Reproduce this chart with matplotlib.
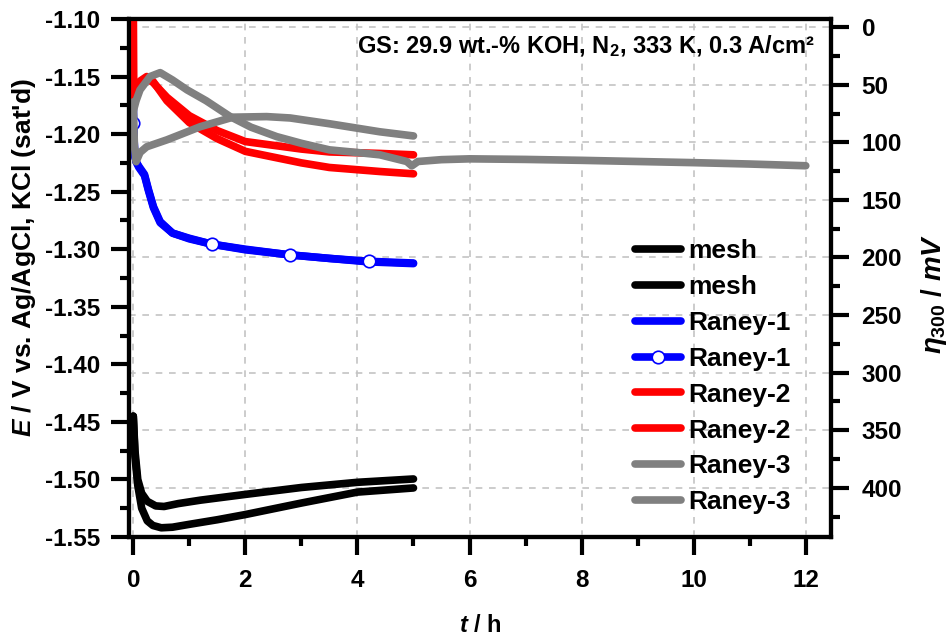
import matplotlib
matplotlib.use("Agg")
import matplotlib.pyplot as plt
from matplotlib.ticker import MultipleLocator

plt.rcParams["font.family"] = ["Liberation Sans", "DejaVu Sans"]
plt.rcParams["font.weight"] = "bold"
plt.rcParams["mathtext.fontset"] = "custom"
plt.rcParams["mathtext.rm"] = "Liberation Sans:bold"
plt.rcParams["mathtext.bf"] = "Liberation Sans:bold"
plt.rcParams["mathtext.it"] = "Liberation Sans:bold:italic"

# data (t in h, E in V vs. Ag/AgCl)
mesh_a_t = [0, 0.03, 0.08, 0.15, 0.25, 0.4, 0.55, 0.8, 1.2, 2.0, 3.0, 4.0, 5.0]
mesh_a_E = [-1.445, -1.475, -1.500, -1.512, -1.519, -1.523, -1.5235, -1.521,
            -1.518, -1.513, -1.507, -1.5025, -1.4996]
mesh_b_t = [0, 0.03, 0.08, 0.15, 0.25, 0.35, 0.5, 0.7, 1.0, 1.5, 2.0, 3.0, 4.0, 5.0]
mesh_b_E = [-1.445, -1.48, -1.505, -1.525, -1.536, -1.540, -1.542, -1.5415,
            -1.539, -1.535, -1.5305, -1.5205, -1.511, -1.5074]

raney1_a_t = [0, 0.02, 0.05, 0.1, 0.2, 0.27, 0.36, 0.48, 0.7, 1.0, 1.4, 2.0,
              2.8, 3.5, 4.2, 5.0]
raney1_a_E = [-1.175, -1.215, -1.224, -1.228, -1.235, -1.248, -1.263, -1.276,
              -1.286, -1.2905, -1.2956, -1.300, -1.305, -1.308, -1.311, -1.3125]
raney1_b_t = [0, 0.03, 0.06, 0.1, 0.2, 0.27, 0.36, 0.48, 0.7, 1.0, 1.4, 2.0,
              2.8, 3.5, 4.2, 5.0]
raney1_b_E = [-1.19, -1.22, -1.225, -1.229, -1.236, -1.249, -1.264, -1.277,
              -1.286, -1.291, -1.2956, -1.3005, -1.3049, -1.308, -1.3105, -1.312]
raney1_b_marks = [0, 10, 12, 14]

raney2_a_t = [0, 0.01, 0.05, 0.12, 0.24, 0.35, 0.6, 1.0, 1.5, 2.0, 3.0, 3.5, 4.4, 5.0]
raney2_a_E = [-1.08, -1.172, -1.165, -1.156, -1.152, -1.155, -1.168, -1.184,
              -1.197, -1.2065, -1.213, -1.2155, -1.2168, -1.218]
raney2_b_t = [0.01, 0.05, 0.12, 0.24, 0.35, 0.6, 1.0, 1.5, 2.0, 3.0, 3.5, 4.4, 5.0]
raney2_b_E = [-1.172, -1.162, -1.154, -1.150, -1.154, -1.171, -1.190, -1.204,
              -1.2150, -1.225, -1.229, -1.2325, -1.2345]

raney3_a_t = [0, 0.05, 0.12, 0.3, 0.48, 0.7, 0.96, 1.3, 1.73, 2.1, 2.56, 3.0,
              3.5, 4.0, 4.4, 4.88, 4.97, 5.08, 5.5, 6, 7, 8, 9, 10, 11, 12]
raney3_a_E = [-1.18, -1.171, -1.1616, -1.150, -1.1466, -1.153, -1.1616, -1.171,
              -1.1848, -1.194, -1.2022, -1.208, -1.2137, -1.216, -1.218, -1.2238,
              -1.2276, -1.2238, -1.2222, -1.2215, -1.222, -1.2228, -1.2238,
              -1.2248, -1.226, -1.2275]
raney3_b_t = [0, 0.02, 0.05, 0.12, 0.24, 0.6, 1.2, 1.78, 2.38, 2.8, 3.5, 4.4, 5.0]
raney3_b_E = [-1.172, -1.21, -1.224, -1.216, -1.211, -1.205, -1.1935, -1.1853,
              -1.1848, -1.186, -1.191, -1.198, -1.2016]

E_ref = -1.1072   # potential where eta = 0 on the right axis

fig = plt.figure(figsize=(9.51, 6.37), dpi=100)
ax = fig.add_axes([0.1356, 0.157, 0.7382, 0.8132])
ax2 = ax.twinx()
ax.set_zorder(ax2.get_zorder() + 1)
ax.patch.set_visible(False)

lw = 5.5
ax.plot(mesh_a_t, mesh_a_E, color="black", lw=lw, label="mesh", solid_capstyle="round")
ax.plot(mesh_b_t, mesh_b_E, color="black", lw=lw, label="mesh", solid_capstyle="round")
ax.plot(raney1_a_t, raney1_a_E, color="#0000ff", lw=lw, label="Raney-1", solid_capstyle="round")
ax.plot(raney1_b_t, raney1_b_E, color="#0000ff", lw=lw, label="Raney-1",
        marker="o", ms=9, mfc="white", mec="#0000ff", mew=1.2,
        markevery=raney1_b_marks, solid_capstyle="round")
ax.plot(raney2_a_t, raney2_a_E, color="#ff0000", lw=lw, label="Raney-2", solid_capstyle="round")
ax.plot(raney2_b_t, raney2_b_E, color="#ff0000", lw=lw, label="Raney-2", solid_capstyle="round")
ax.plot(raney3_a_t, raney3_a_E, color="#808080", lw=lw, label="Raney-3", solid_capstyle="round")
ax.plot(raney3_b_t, raney3_b_E, color="#808080", lw=lw, label="Raney-3", solid_capstyle="round")

ax.set_xlim(-0.077, 12.45)
ax.set_ylim(-1.55, -1.10)
ax2.set_ylim((E_ref + 1.55) * 1000, (E_ref + 1.10) * 1000)

ax.xaxis.set_major_locator(MultipleLocator(2))
ax.xaxis.set_minor_locator(MultipleLocator(1))
ax.yaxis.set_major_locator(MultipleLocator(0.05))
ax.yaxis.set_minor_locator(MultipleLocator(0.025))
ax2.yaxis.set_major_locator(MultipleLocator(50))
ax2.yaxis.set_minor_locator(MultipleLocator(25))
ax.yaxis.set_major_formatter(plt.FormatStrFormatter("%.2f"))

grid_kw = dict(color="#c4c4c4", linestyle=(0, (4, 4)), linewidth=1.2)
ax.grid(axis="x", which="major", **grid_kw)
ax2.grid(axis="y", which="major", **grid_kw)

for a in (ax, ax2):
    for s in a.spines.values():
        s.set_linewidth(3)
    a.tick_params(which="major", direction="out", length=13, width=3,
                  labelsize=17.5, pad=8)
    a.tick_params(which="minor", direction="out", length=6.5, width=3)
ax.tick_params(axis="x", pad=10)
ax.tick_params(top=False, right=False, which="both")
ax2.tick_params(axis="y", pad=9)

ax.set_xlabel(r"$t$ / h", fontsize=17, fontweight="bold")
ax.xaxis.set_label_coords(0.5, -0.148)
ax.set_ylabel(r"$E$ / V vs. Ag/AgCl, KCl (sat'd)", fontsize=19, fontweight="bold")
ax.yaxis.set_label_coords(-0.13, 0.54)
ax2.set_ylabel(r"$\eta_{300}$ / $mV$", fontsize=20, fontweight="bold")
ax2.yaxis.set_label_coords(1.125, 0.47)

ax.text(0.977, 0.935, "GS: 29.9 wt.-% KOH, N$_2$, 333 K, 0.3 A/cm²",
        transform=ax.transAxes, ha="right", va="baseline",
        fontsize=17, fontweight="bold")

ax.legend(loc="upper left", bbox_to_anchor=(0.7208, 0.575), frameon=False,
          fontsize=19, handlelength=1.75, handletextpad=0.27,
          labelspacing=0.45, borderpad=0, borderaxespad=0)

fig.savefig("out.png", dpi=100)
